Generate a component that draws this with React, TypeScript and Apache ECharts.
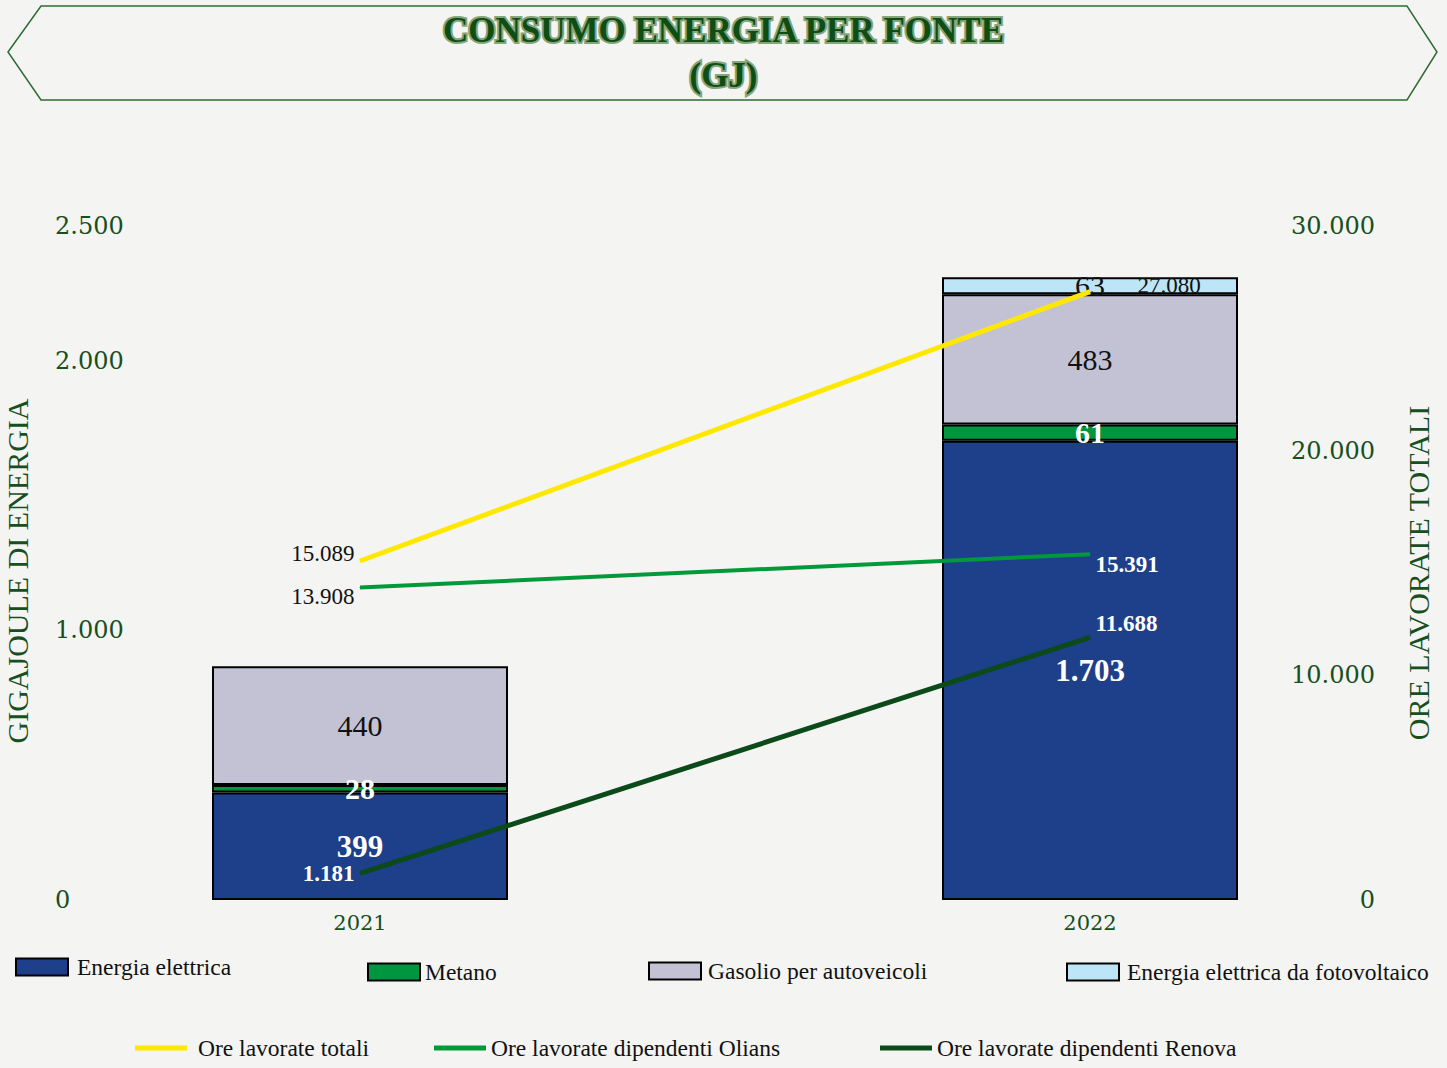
import React, { useEffect, useRef } from "react";
import * as echarts from "echarts";

const categories = ["2021", "2022"];
const energiaElettrica = [399, 1703];
const metano = [28, 61];
const gasolio = [440, 483];
const fotovoltaico: (number | null)[] = [null, 63];
const oreTotali = [15089, 27080];
const oreOlians = [13908, 15391];
const oreRenova = [1181, 11688];
const leftTickLabels = [0, 1000, 2000, 2500];

const FONT = "Liberation Serif";
const AXIS_FONT = "DejaVu Serif";
const DARK_GREEN = "#174f1e";

const fmt = (n: number) => String(n).replace(/\B(?=(\d{3})+(?!\d))/g, ".");

export default function App() {
  const ref = useRef<HTMLDivElement>(null);
  useEffect(() => {
    if (!ref.current) return;
    const chart = echarts.init(ref.current, undefined, { renderer: "svg" });

    const barLabel = (color: string, bold: boolean, size: number) => ({
      show: true,
      position: "inside",
      color,
      fontFamily: FONT,
      fontWeight: bold ? "bold" : "normal",
      fontSize: size,
      formatter: (p: any) => fmt(p.value),
    });

    const lineLabel = (color: string, bold: boolean, position: string, offset: number[]) => ({
      show: true,
      position,
      offset,
      color,
      fontFamily: FONT,
      fontWeight: bold ? "bold" : "normal",
      fontSize: 23,
      formatter: (p: any) => fmt(p.value),
    });

    const legendItems = [
      { name: "Energia elettrica", left: 15, top: 955, line: false, gap: 4 },
      { name: "Metano", left: 367, top: 960, line: false, gap: 0 },
      { name: "Gasolio per autoveicoli", left: 648, top: 959, line: false, gap: 2 },
      { name: "Energia elettrica da fotovoltaico", left: 1066, top: 960, line: false, gap: 3 },
      { name: "Ore lavorate totali", left: 135, top: 1036, line: true, gap: 6 },
      { name: "Ore lavorate dipendenti Olians", left: 434, top: 1036, line: true, gap: 0 },
      { name: "Ore lavorate dipendenti Renova", left: 880, top: 1036, line: true, gap: 0 },
    ];

    const barBorder = { borderColor: "#000", borderWidth: 2 };

    chart.setOption({
      animation: false,
      backgroundColor: "#f4f4f2",
      title: {
        text: "CONSUMO ENERGIA PER FONTE\n(GJ)",
        left: "center",
        top: 3,
        textStyle: {
          fontFamily: FONT,
          fontWeight: "bold",
          fontSize: 35,
          lineHeight: 45,
          color: "#0e4d14",
          textBorderColor: "#86a57a",
          textBorderWidth: 4,
        },
      },
      graphic: [
        {
          type: "polygon",
          z: -1,
          shape: {
            points: [
              [8, 52],
              [41, 6],
              [1407, 6],
              [1437, 52],
              [1407, 100],
              [41, 100],
            ],
          },
          style: { fill: "none", stroke: "#2f6b35", lineWidth: 1.5 },
        },
      ],
      legend: legendItems.map((it) => ({
        data: [it.name],
        left: it.left,
        top: it.top,
        padding: 0,
        itemWidth: 52,
        itemHeight: it.line ? 5 : 17,
        icon: "rect",
        selectedMode: false,
        textStyle: {
          fontFamily: FONT,
          fontSize: 23.5,
          color: "#111",
          padding: [0, 0, 0, it.gap],
        },
      })),
      grid: { left: 360, right: 357, top: 226, bottom: 168, outerBoundsMode: "none" },
      xAxis: {
        type: "category",
        data: categories,
        boundaryGap: false,
        axisLine: { show: false },
        axisTick: { show: false },
        axisLabel: {
          fontFamily: AXIS_FONT,
          fontSize: 21,
          color: DARK_GREEN,
          margin: 12,
        },
      },
      yAxis: [
        {
          type: "value",
          min: 0,
          max: 2500,
          interval: 500,
          splitLine: { show: false },
          axisLine: { show: false },
          axisTick: { show: false },
          axisLabel: {
            align: "left",
            margin: 305,
            fontFamily: AXIS_FONT,
            fontSize: 24,
            color: DARK_GREEN,
            formatter: (v: number) => (leftTickLabels.includes(v) ? fmt(v) : ""),
          },
          name: "GIGAJOULE DI ENERGIA",
          nameLocation: "middle",
          nameGap: 328,
          nameRotate: 90,
          nameTextStyle: {
            fontFamily: FONT,
            fontSize: 30,
            color: DARK_GREEN,
            padding: [0, 16, 0, 0],
          },
        },
        {
          type: "value",
          min: 0,
          max: 30000,
          interval: 10000,
          splitLine: { show: false },
          axisLine: { show: false },
          axisTick: { show: false },
          axisLabel: {
            align: "right",
            margin: 285,
            fontFamily: AXIS_FONT,
            fontSize: 24,
            color: DARK_GREEN,
            formatter: (v: number) => fmt(v),
          },
          name: "ORE LAVORATE TOTALI",
          nameLocation: "middle",
          nameGap: 313,
          nameRotate: 90,
          nameTextStyle: {
            fontFamily: FONT,
            fontSize: 30,
            color: DARK_GREEN,
            padding: [0, 20, 0, 0],
          },
        },
      ],
      series: [
        {
          name: "Energia elettrica",
          type: "bar",
          stack: "energia",
          barWidth: 296,
          clip: false,
          itemStyle: { color: "#1e3f8a", ...barBorder },
          label: barLabel("#fff", true, 31),
          data: energiaElettrica,
        },
        {
          name: "Metano",
          type: "bar",
          stack: "energia",
          barWidth: 296,
          clip: false,
          itemStyle: { color: "#009640", ...barBorder },
          label: barLabel("#fff", true, 30),
          data: metano,
        },
        {
          name: "Gasolio per autoveicoli",
          type: "bar",
          stack: "energia",
          barWidth: 296,
          clip: false,
          itemStyle: { color: "#c3c2d5", ...barBorder },
          label: barLabel("#111", false, 30),
          data: gasolio,
        },
        {
          name: "Energia elettrica da fotovoltaico",
          type: "bar",
          stack: "energia",
          barWidth: 296,
          clip: false,
          itemStyle: { color: "#bde5f8", ...barBorder },
          label: barLabel("#111", false, 30),
          data: fotovoltaico,
        },
        {
          name: "Ore lavorate totali",
          type: "line",
          yAxisIndex: 1,
          symbol: "circle",
          symbolSize: 1,
          lineStyle: { color: "#ffe800", width: 5 },
          itemStyle: { color: "#ffe800" },
          z: 5,
          data: [
            { value: oreTotali[0], label: lineLabel("#111", false, "left", [0, -8]) },
            { value: oreTotali[1], label: lineLabel("#111", false, "right", [42, -6]) },
          ],
        },
        {
          name: "Ore lavorate dipendenti Olians",
          type: "line",
          yAxisIndex: 1,
          symbol: "circle",
          symbolSize: 1,
          lineStyle: { color: "#009a3a", width: 4 },
          itemStyle: { color: "#009a3a" },
          z: 5,
          data: [
            { value: oreOlians[0], label: lineLabel("#111", false, "left", [0, 9]) },
            { value: oreOlians[1], label: lineLabel("#fff", true, "right", [0, 10]) },
          ],
        },
        {
          name: "Ore lavorate dipendenti Renova",
          type: "line",
          yAxisIndex: 1,
          symbol: "circle",
          symbolSize: 1,
          lineStyle: { color: "#0c4a1a", width: 5 },
          itemStyle: { color: "#0c4a1a" },
          z: 5,
          data: [
            { value: oreRenova[0], label: lineLabel("#fff", true, "left", [0, 0]) },
            { value: oreRenova[1], label: lineLabel("#fff", true, "right", [0, -14]) },
          ],
        },
      ],
    });
    return () => chart.dispose();
  }, []);

  return (
    <div
      ref={ref}
      style={{
        position: "fixed",
        left: 0,
        top: 0,
        width: 1447,
        height: 1068,
        background: "#f4f4f2",
      }}
    />
  );
}
